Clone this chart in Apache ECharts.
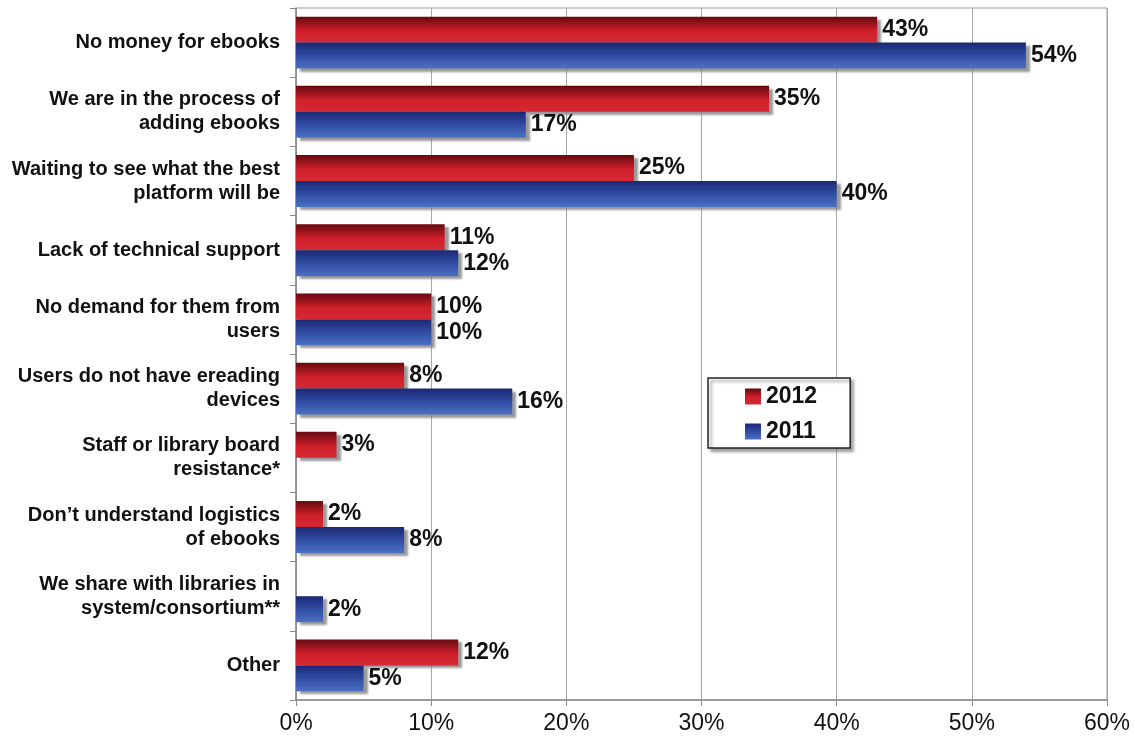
<!DOCTYPE html>
<html>
<head>
<meta charset="utf-8">
<script src="https://cdn.jsdelivr.net/npm/echarts@6/dist/echarts.min.js"></script>
<style>
  html, body { margin: 0; padding: 0; background: #ffffff; }
  #chart { width: 1135px; height: 746px; }
</style>
</head>
<body>
<div id="chart"></div>
<script>
// Reasons for not offering ebooks, share of respondents (%)
const categories = [
  'No money for ebooks',
  'We are in the process of\nadding ebooks',
  'Waiting to see what the best\nplatform will be',
  'Lack of technical support',
  'No demand for them from\nusers',
  'Users do not have ereading\ndevices',
  'Staff or library board\nresistance*',
  'Don\u2019t understand logistics\nof ebooks',
  'We share with libraries in\nsystem/consortium**',
  'Other'
];
const values2012 = [43, 35, 25, 11, 10, 8, 3, 2, null, 12];
const values2011 = [54, 17, 40, 12, 10, 16, null, 8, 2, 5];
const xTicks = [0, 10, 20, 30, 40, 50, 60];

const FONT = '"Liberation Sans", Arial, Helvetica, sans-serif';

const redFill = new echarts.graphic.LinearGradient(0, 0, 0, 1, [
  { offset: 0, color: '#650a0e' },
  { offset: 0.55, color: '#cf1f2a' },
  { offset: 1, color: '#d42a33' }
]);
const blueFill = new echarts.graphic.LinearGradient(0, 0, 0, 1, [
  { offset: 0, color: '#1b2874' },
  { offset: 0.5, color: '#304ca2' },
  { offset: 1, color: '#4d70c4' }
]);

const barShadow = {
  shadowColor: 'rgba(120,120,120,0.75)',
  shadowBlur: 2,
  shadowOffsetX: 4,
  shadowOffsetY: 3
};

const valueLabel = {
  show: true,
  position: 'right',
  distance: 5,
  formatter: p => p.value + '%',
  fontFamily: FONT,
  fontWeight: 'bold',
  fontSize: 23,
  color: '#111111'
};

const chart = echarts.init(document.getElementById('chart'), null, { renderer: 'canvas' });
chart.setOption({
  animation: false,
  backgroundColor: '#ffffff',
  grid: {
    left: 296,
    right: 28,
    top: 8,
    bottom: 46,
    show: true,
    borderColor: '#9a9a9a',
    borderWidth: 1,
    containLabel: false
  },
  legend: {
    orient: 'vertical',
    left: 708,
    top: 378,
    padding: [7, 33, 5, 37],
    itemWidth: 16,
    itemHeight: 16,
    itemGap: 12,
    backgroundColor: '#ffffff',
    borderColor: '#222222',
    borderWidth: 1.5,
    borderRadius: 0,
    shadowColor: 'rgba(90,90,90,0.6)',
    shadowBlur: 3,
    shadowOffsetX: 3,
    shadowOffsetY: 3,
    icon: 'rect',
    textStyle: {
      fontFamily: FONT,
      fontWeight: 'bold',
      fontSize: 23,
      color: '#111111'
    },
    data: ['2012', '2011']
  },
  xAxis: {
    type: 'value',
    min: xTicks[0],
    max: xTicks[xTicks.length - 1],
    interval: 10,
    axisLine: { show: true, lineStyle: { color: '#8a8a8a', width: 1.5 } },
    axisTick: { show: true, length: 6, lineStyle: { color: '#8a8a8a' } },
    splitLine: { show: true, lineStyle: { color: '#a8a8a8', width: 1 } },
    axisLabel: {
      margin: 12,
      fontFamily: FONT,
      fontSize: 23,
      color: '#111111',
      formatter: v => v + '%'
    }
  },
  yAxis: {
    type: 'category',
    inverse: true,
    data: categories,
    axisLine: { show: true, lineStyle: { color: '#8a8a8a', width: 1.5 } },
    axisTick: { show: true, length: 6, alignWithLabel: false, lineStyle: { color: '#8a8a8a' } },
    axisLabel: {
      margin: 16,
      align: 'right',
      fontFamily: FONT,
      fontWeight: 'bold',
      fontSize: 20,
      lineHeight: 24,
      color: '#111111'
    }
  },
  series: [
    {
      name: '2012',
      type: 'bar',
      data: values2012,
      barGap: '0%',
      barCategoryGap: '25%',
      itemStyle: Object.assign({ color: redFill }, barShadow),
      label: valueLabel
    },
    {
      name: '2011',
      type: 'bar',
      data: values2011,
      barGap: '0%',
      barCategoryGap: '25%',
      itemStyle: Object.assign({ color: blueFill }, barShadow),
      label: valueLabel
    }
  ]
});
</script>
</body>
</html>
